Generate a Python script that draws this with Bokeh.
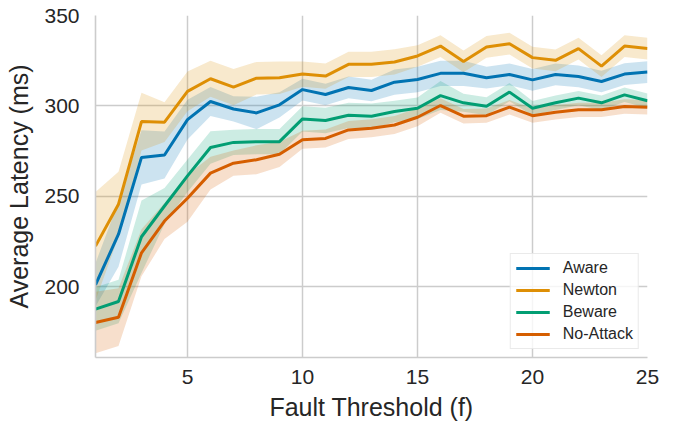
from bokeh.plotting import figure
from bokeh.models import Range1d, FixedTicker, Legend, LegendItem
from bokeh.embed import file_html
from bokeh.resources import INLINE

fault_threshold = list(range(1, 26))

aware = [201.0, 229.0, 271.5, 272.8, 292.4, 302.4, 298.3, 296.1, 300.6, 309.0,
         306.3, 310.2, 308.5, 313.1, 314.6, 318.0, 318.0, 315.6, 317.4, 314.4,
         317.4, 316.3, 313.5, 317.6, 318.7]
newton = [222.4, 245.6, 291.3, 291.0, 308.0, 315.0, 310.4, 315.3, 315.6, 317.6,
          316.5, 323.0, 323.0, 324.3, 327.6, 333.1, 324.6, 332.6, 334.4, 326.7,
          325.2, 331.7, 322.0, 333.1, 331.7]
beware = [187.6, 191.8, 227.6, 244.6, 261.3, 277.0, 279.8, 280.2, 280.2, 292.8,
          291.9, 294.8, 294.3, 296.9, 298.7, 305.7, 301.7, 299.8, 307.6, 298.7,
          301.7, 304.3, 301.7, 306.1, 302.8]
no_attack = [180.2, 183.1, 218.7, 236.3, 248.9, 262.8, 268.3, 270.2, 273.2, 281.3,
             282.0, 286.7, 287.6, 289.4, 293.7, 300.2, 294.3, 294.6, 299.3, 294.6,
             296.5, 297.8, 297.8, 299.6, 299.3]

# confidence band half-widths (ms)
aware_ci = [12, 18, 15, 13, 11, 8, 7, 9, 7, 6, 6, 6, 6, 7, 7, 7, 7, 6, 6, 6, 6, 6, 6, 6, 6]
newton_ci = [30, 18, 16, 11, 11, 10, 10, 9, 9, 7, 7, 7, 7, 7, 6, 6, 6, 6, 6, 6, 6, 6, 6, 6, 6]
beware_ci = [12, 12, 20, 10, 9, 9, 7, 7, 7, 7, 7, 7, 7, 6, 6, 8, 5, 5, 5, 4, 4, 4, 4, 4, 4]
no_attack_ci = [17, 16, 13, 10, 13, 9, 7, 8, 7, 5, 5, 5, 5, 5, 5, 4, 4, 4, 4, 4, 4, 4, 4, 4, 4]

series_names = ["Aware", "Newton", "Beware", "No-Attack"]
series_values = [aware, newton, beware, no_attack]
series_ci = [aware_ci, newton_ci, beware_ci, no_attack_ci]
colors = ["#0173b2", "#de8f05", "#029e73", "#d55e00"]

x_ticks = [5, 10, 15, 20, 25]
y_ticks = [200, 250, 300, 350]

FONT = "Liberation Sans"
TXT = "#262626"
GRID = "#cccccc"

p = figure(width=673, height=426, output_backend="svg", toolbar_location=None,
           x_range=Range1d(1, 25), y_range=Range1d(160.8, 350),
           min_border_left=95, min_border_right=26, min_border_top=15,
           min_border_bottom=69)
p.outline_line_color = None
p.background_fill_color = "white"

for name, vals, ci, c in zip(series_names, series_values, series_ci, colors):
    lo = [v - e for v, e in zip(vals, ci)]
    hi = [v + e for v, e in zip(vals, ci)]
    p.varea(x=fault_threshold, y1=lo, y2=hi, fill_color=c, fill_alpha=0.2)

items = []
for name, vals, c in zip(series_names, series_values, colors):
    r = p.line(fault_threshold, vals, line_color=c, line_width=3)
    items.append(LegendItem(label=name, renderers=[r]))

legend = Legend(items=items, location="bottom_right",
                label_text_font=FONT, label_text_font_size="16px",
                label_text_color=TXT, glyph_width=34, glyph_height=18,
                label_height=18, label_standoff=13, spacing=4, padding=5,
                margin=8, border_line_color="#d6d6d6", border_line_width=1,
                background_fill_color="white", background_fill_alpha=0.8)
p.add_layout(legend)

for ax in (p.xaxis, p.yaxis):
    ax.axis_line_color = GRID
    ax.axis_line_width = 1.6
    ax.major_tick_line_color = None
    ax.minor_tick_line_color = None
    ax.major_tick_out = 0
    ax.major_tick_in = 0
    ax.major_label_text_font = FONT
    ax.major_label_text_font_size = "21px"
    ax.major_label_text_color = TXT
    ax.axis_label_text_font = FONT
    ax.axis_label_text_font_size = "25px"
    ax.axis_label_text_font_style = "normal"
    ax.axis_label_text_color = TXT

p.xaxis.ticker = FixedTicker(ticks=x_ticks)
p.yaxis.ticker = FixedTicker(ticks=y_ticks)
p.xaxis.axis_label = "Fault Threshold (f)"
p.yaxis.axis_label = "Average Latency (ms)"
p.xaxis.major_label_standoff = 12
p.yaxis.major_label_standoff = 16
p.xaxis.axis_label_standoff = 6
p.yaxis.axis_label_standoff = 8

p.xgrid.grid_line_color = GRID
p.ygrid.grid_line_color = GRID
p.xgrid.grid_line_width = 1.5
p.ygrid.grid_line_width = 1.5

open("out.html", "w").write(file_html(p, INLINE))
